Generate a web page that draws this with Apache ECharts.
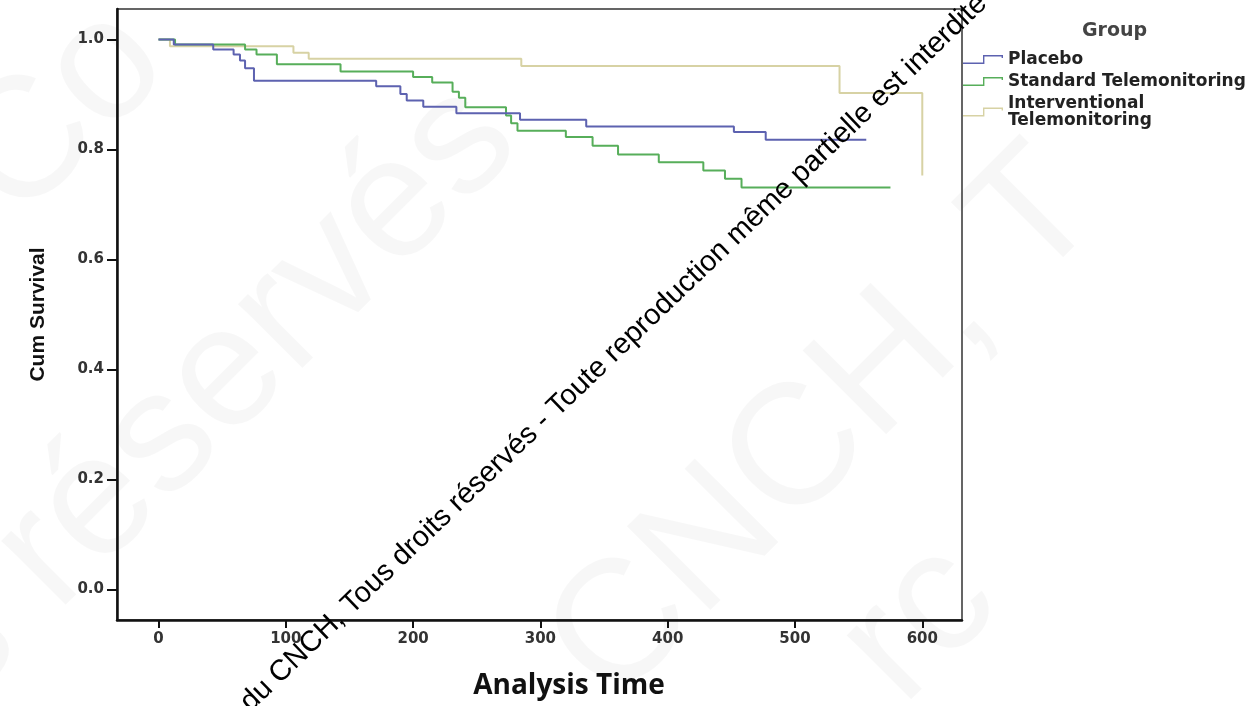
<!DOCTYPE html>
<html>
<head>
<meta charset="utf-8">
<script src="https://cdn.jsdelivr.net/npm/echarts@6/dist/echarts.min.js"></script>
<style>
html,body{margin:0;padding:0;background:#fff;}
#chart{width:1256px;height:706px;}
</style>
</head>
<body>
<div id="chart"></div>
<script>
// ---- data ----
const groupNames = ['Placebo', 'Standard Telemonitoring', 'Interventional Telemonitoring'];
const placeboTime = [0, 12, 43, 59, 64, 68, 75, 171, 190, 195, 208, 234, 284, 336, 452, 477, 556];
const placeboSurv = [1.0, 0.991, 0.982, 0.973, 0.962, 0.948, 0.925, 0.915, 0.901, 0.889, 0.878, 0.866, 0.854, 0.842, 0.832, 0.818, 0.818];
const standardTime = [0, 13, 68, 77, 93, 143, 200, 215, 231, 236, 241, 273, 277, 282, 320, 341, 361, 393, 428, 445, 458, 575];
const standardSurv = [1.0, 0.991, 0.982, 0.973, 0.955, 0.942, 0.932, 0.922, 0.905, 0.894, 0.877, 0.862, 0.848, 0.834, 0.823, 0.807, 0.791, 0.777, 0.762, 0.747, 0.731, 0.731];
const interventionalTime = [0, 9, 106, 118, 285, 535, 600];
const interventionalSurv = [1.0, 0.988, 0.976, 0.965, 0.952, 0.903, 0.753];
const xTicks = [0, 100, 200, 300, 400, 500, 600];
const yTicks = [0.0, 0.2, 0.4, 0.6, 0.8, 1.0];
const watermarkText = 'du CNCH, Tous droits réservés - Toute reproduction même partielle est interdite';
const faintTexts = ['Co', 's réservés', 'CNCH, T', 'rc'];

const colors = ['#5d62b0', '#57ae5a', '#d7d2a4'];
const pair = (t, s) => t.map((v, i) => [v, s[i]]);
const seriesData = [pair(placeboTime, placeboSurv), pair(standardTime, standardSurv), pair(interventionalTime, interventionalSurv)];

const chart = echarts.init(document.getElementById('chart'), null, {renderer: 'canvas'});
const labelFont = {fontFamily: 'DejaVu Sans', fontWeight: 'bold', fontSize: 15, color: '#333'};
const rot = d => d * Math.PI / 180;
const faintPos = [[45, 252], [-10, 735], [640, 735], [930, 735]];

chart.setOption({
  animation: false,
  backgroundColor: '#fff',
  title: {
    text: 'Group', left: 1077, top: 17,
    textStyle: {fontFamily: 'DejaVu Sans', fontWeight: 'bold', fontSize: 19, color: '#444'}
  },
  legend: {
    orient: 'vertical', left: 963, top: 51, itemGap: 5, padding: 0,
    itemWidth: 40, itemHeight: 9,
    icon: 'path://M0,7.6 L20,7.6 L20,0 L40,0 L40,3 L38.6,3 L38.6,1.4 L21.4,1.4 L21.4,9 L0,9 Z',
    data: groupNames,
    formatter: n => n === 'Interventional Telemonitoring' ? 'Interventional\nTelemonitoring' : n,
    textStyle: {fontFamily: 'DejaVu Sans', fontWeight: 'bold', fontSize: 17, lineHeight: 17, color: '#222'},
    itemStyle: {borderWidth: 0}
  },
  grid: {left: 117, right: 294, top: 9, bottom: 86, show: true, borderColor: '#333', borderWidth: 1.5, containLabel: false},
  xAxis: {
    type: 'value', min: -32.6, max: 631.2,
    name: 'Analysis Time', nameLocation: 'middle', nameGap: 52,
    nameTextStyle: {fontFamily: 'Open Sans', fontWeight: 'bold', fontSize: 28, color: '#111', padding: [0, 0, 0, 59]},
    axisLine: {show: true, onZero: false, lineStyle: {color: '#111', width: 2.5}},
    axisTick: {show: true, customValues: xTicks, length: 8, lineStyle: {color: '#111', width: 2}},
    axisLabel: Object.assign({customValues: xTicks, margin: 12}, labelFont),
    splitLine: {show: false}
  },
  yAxis: {
    type: 'value', min: -0.0553, max: 1.0555,
    name: 'Cum Survival', nameLocation: 'middle', nameGap: 68, nameRotate: 90,
    nameTextStyle: {fontFamily: 'Liberation Sans', fontWeight: 'bold', fontSize: 21, color: '#111'},
    axisLine: {show: true, onZero: false, lineStyle: {color: '#111', width: 2.5}},
    axisTick: {show: true, customValues: yTicks, length: 10, lineStyle: {color: '#111', width: 2}},
    axisLabel: Object.assign({customValues: yTicks, margin: 13, formatter: v => v.toFixed(1)}, labelFont),
    splitLine: {show: false}
  },
  series: groupNames.map((n, i) => ({
    name: n, type: 'line', step: 'end', data: seriesData[i],
    showSymbol: false, symbol: 'none', z: 3 - i,
    color: colors[i],
    lineStyle: {color: colors[i], width: 2},
    itemStyle: {color: colors[i]}
  })),
  graphic: faintTexts.map((t, i) => ({
    type: 'text', x: faintPos[i][0], y: faintPos[i][1], rotation: rot(45), z: -10, silent: true,
    style: {text: t, font: '172px "Liberation Sans"', fill: 'rgba(0,0,0,0.03)', textAlign: 'left', textVerticalAlign: 'bottom'}
  })).concat([{
    type: 'text', x: 255, y: 717, rotation: rot(43.8), z: 100,
    style: {text: watermarkText, font: '29px "Liberation Sans"', fill: '#000', textAlign: 'left', textVerticalAlign: 'bottom'}
  }])
});
</script>
</body>
</html>
